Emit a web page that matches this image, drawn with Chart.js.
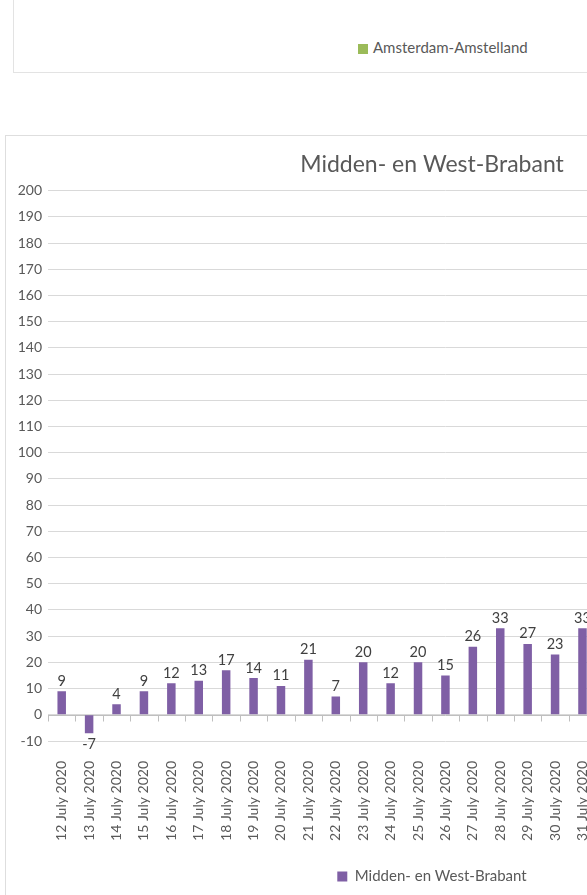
<!DOCTYPE html>
<html>
<head>
<meta charset="utf-8">
<script src="https://cdn.jsdelivr.net/npm/chart.js@4/dist/chart.umd.min.js"></script>
<style>
  body { margin: 0; width: 587px; height: 895px; overflow: hidden; background: #fff; font-family: Lato, sans-serif; }
  #prevBox { position: absolute; left: 13px; top: -60px; width: 900px; height: 131px; border: 1px solid #e3e3e3; }
  #prevLegend { position: absolute; left: 358px; top: 38px; font-size: 15px; color: #595959; line-height: 18px; }
  #prevLegend span { display: inline-block; width: 10px; height: 10px; background: #9bbb59; margin-right: 5px; vertical-align: -1px; }
  #chartBox { position: absolute; left: 5px; top: 135px; width: 900px; height: 820px; border: 1px solid #dedede; }
  #chart { position: absolute; left: 2px; top: 0px; }
</style>
</head>
<body>
<div id="prevBox"></div>
<div id="prevLegend"><span></span>Amsterdam-Amstelland</div>
<div id="chartBox"><canvas id="chart" width="850" height="770"></canvas></div>
<script>
// categories: 12 July - 9 August 2020 (only up to 31 July is visible in the picture)
const dates = [
  '12 July 2020', '13 July 2020', '14 July 2020', '15 July 2020', '16 July 2020',
  '17 July 2020', '18 July 2020', '19 July 2020', '20 July 2020', '21 July 2020',
  '22 July 2020', '23 July 2020', '24 July 2020', '25 July 2020', '26 July 2020',
  '27 July 2020', '28 July 2020', '29 July 2020', '30 July 2020', '31 July 2020',
  '1 August 2020', '2 August 2020', '3 August 2020', '4 August 2020', '5 August 2020',
  '6 August 2020', '7 August 2020', '8 August 2020', '9 August 2020'
];
// values off the picture; the days past the right edge are not visible
const brabant = [9, -7, 4, 9, 12, 13, 17, 14, 11, 21, 7, 20, 12, 20, 15, 26, 33, 27, 23, 33,
  null, null, null, null, null, null, null, null, null];
const yMin = -10;
const yMax = 200;
const yStep = 10;

const grey = '#595959';

// value labels above the bars (below for negatives)
const barLabels = {
  id: 'barLabels',
  afterDatasetsDraw(chart) {
    const c = chart.ctx;
    const meta = chart.getDatasetMeta(0);
    c.save();
    c.font = '14.5px Lato';
    c.fillStyle = '#404040';
    c.textAlign = 'center';
    meta.data.forEach((bar, i) => {
      const v = brabant[i];
      if (v === null) return;
      if (v >= 0) {
        c.textBaseline = 'bottom';
        c.fillText(v, bar.x, bar.y - 3);
      } else {
        c.textBaseline = 'top';
        c.fillText(v, bar.x, bar.y + 4);
      }
    });
    c.restore();
  }
};

// horizontal axis line at zero with tick marks between categories
const zeroAxis = {
  id: 'zeroAxis',
  beforeDatasetsDraw(chart) {
    const c = chart.ctx;
    const xs = chart.scales.x;
    const y0 = Math.round(chart.scales.y.getPixelForValue(0)) + 0.5;
    const n = dates.length;
    const step = (xs.right - xs.left) / n;
    c.save();
    c.strokeStyle = '#bfbfbf';
    c.lineWidth = 1;
    c.beginPath();
    c.moveTo(xs.left, y0);
    c.lineTo(xs.right, y0);
    for (let i = 0; i <= n; i++) {
      const x = Math.round(xs.left + i * step) + 0.5;
      c.moveTo(x, y0);
      c.lineTo(x, y0 + 6);
    }
    c.stroke();
    c.restore();
  }
};

new Chart(document.getElementById('chart'), {
  type: 'bar',
  data: {
    labels: dates,
    datasets: [{
      label: 'Midden- en West-Brabant',
      data: brabant,
      backgroundColor: '#7f5fa5',
      barPercentage: 0.31,
      categoryPercentage: 1
    }]
  },
  options: {
    responsive: false,
    animation: false,
    layout: { padding: { left: 0, right: 2, top: 0, bottom: 12 } },
    plugins: {
      title: {
        display: true,
        text: 'Midden- en West-Brabant',
        color: grey,
        font: { family: 'Lato', size: 23, weight: 'normal' },
        padding: { top: 15, bottom: 12 }
      },
      legend: {
        position: 'bottom',
        labels: {
          color: grey,
          font: { family: 'Lato', size: 15 },
          boxWidth: 10,
          boxHeight: 10,
          padding: 10
        }
      },
      tooltip: { enabled: false }
    },
    scales: {
      x: {
        grid: { display: false },
        border: { display: false },
        ticks: {
          color: grey,
          font: { family: 'Lato', size: 14 },
          minRotation: 90,
          maxRotation: 90,
          autoSkip: false,
          padding: 12
        },
        afterFit(scale) { scale.height = 118; }
      },
      y: {
        min: yMin,
        max: yMax,
        grid: { color: '#d9d9d9', drawTicks: false },
        border: { display: false },
        ticks: {
          stepSize: yStep,
          color: grey,
          font: { family: 'Lato', size: 14 },
          padding: 6
        },
        afterFit(scale) { scale.width = 40; }
      }
    }
  },
  plugins: [zeroAxis, barLabels]
});
</script>
</body>
</html>
